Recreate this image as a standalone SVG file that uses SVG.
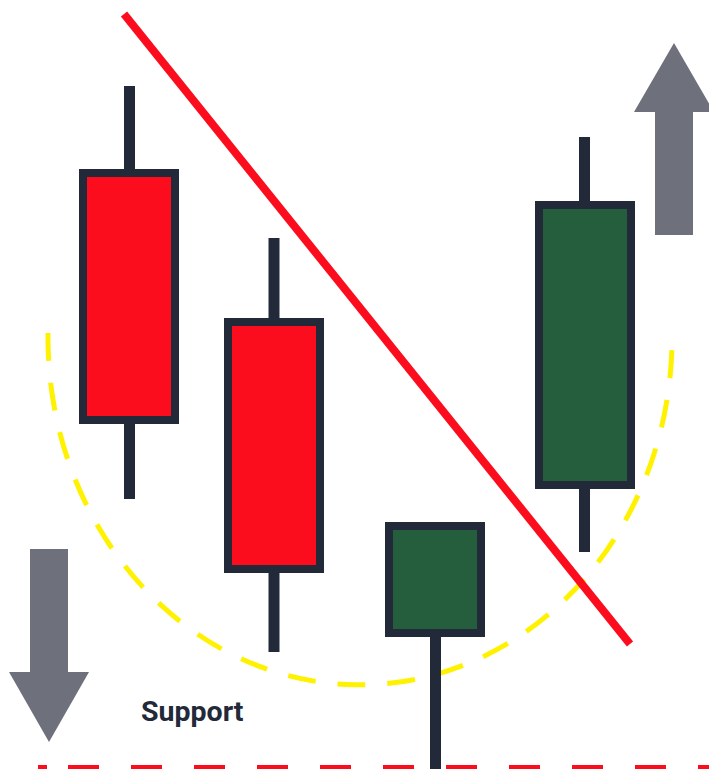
<svg xmlns="http://www.w3.org/2000/svg" width="709" height="769" viewBox="0 0 709 769">
<style>
.wick{stroke:#222a3a;stroke-width:11}
.body{stroke:#222a3a;stroke-width:8}
.bear{fill:#fb0d1e}
.bull{fill:#245e3c}
.arrow{fill:#6e707c}
</style>
<rect width="709" height="769" fill="#ffffff"/>
<g id="arc">
<path d="M48,333 A312,347 0 0 0 672,343" fill="none" stroke="#fff200" stroke-width="5" stroke-dasharray="28 22"/>
</g>
<g id="candle1">
<line class="wick" x1="129.5" y1="86" x2="129.5" y2="499"/>
<rect class="body bear" x="83" y="173" width="92" height="247"/>
</g>
<g id="candle2">
<line class="wick" x1="274" y1="238" x2="274" y2="652"/>
<rect class="body bear" x="228" y="322" width="92" height="247"/>
</g>
<g id="candle3">
<line class="wick" x1="435.5" y1="630" x2="435.5" y2="769"/>
<rect class="body bull" x="389" y="526" width="92" height="107"/>
</g>
<g id="candle4">
<line class="wick" x1="584.5" y1="137" x2="584.5" y2="552"/>
<rect class="body bull" x="539" y="205" width="92" height="280"/>
</g>
<g id="connectors">
<line x1="124" y1="14" x2="630" y2="644" stroke="#fb0d1e" stroke-width="8"/>
<line x1="38" y1="767" x2="47" y2="767" stroke="#fb0d1e" stroke-width="4"/>
<line x1="68" y1="767" x2="709" y2="767" stroke="#fb0d1e" stroke-width="4" stroke-dasharray="31 32"/>
</g>
<g id="down-arrow">
<polygon class="arrow" points="30,549 68,549 68,672 89,672 49,742 9,672 30,672"/>
</g>
<g id="up-arrow">
<polygon class="arrow" points="674,43 714,112 693,112 693,235 655,235 655,112 634,112"/>
</g>
<g id="label">
<text x="141" y="721" font-family="Roboto, 'Liberation Sans', sans-serif" font-weight="bold" font-size="28.5" fill="#222a3a">Support</text>
</g>
</svg>
